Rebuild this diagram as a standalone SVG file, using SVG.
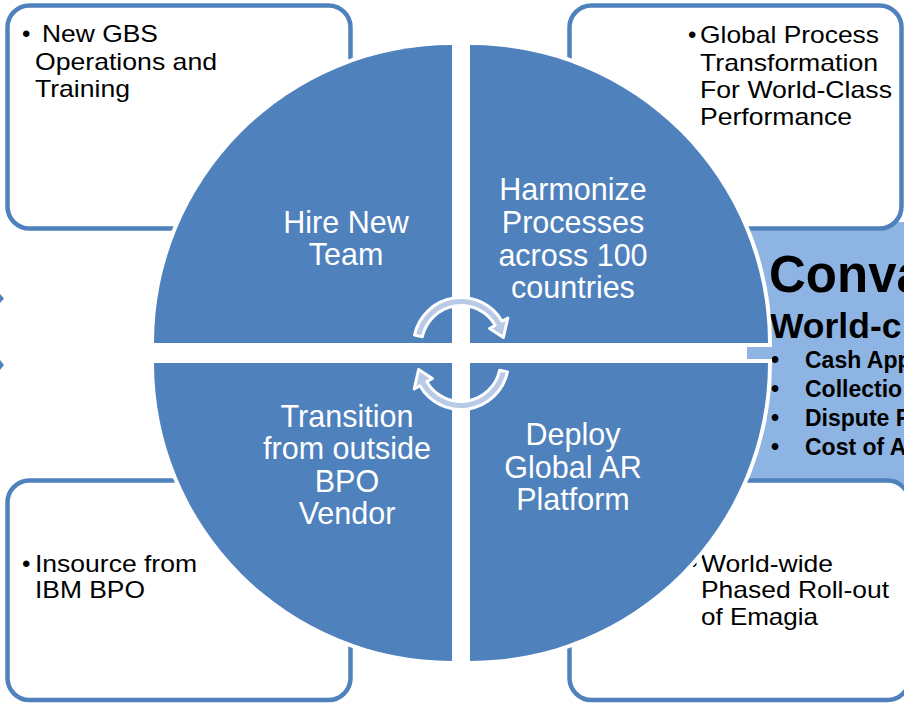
<svg xmlns="http://www.w3.org/2000/svg" width="904" height="703" viewBox="0 0 904 703">
  <style>
    .box { fill: #ffffff; stroke: #4f81bd; stroke-width: 4.5; }
    .note { font-family: "Liberation Sans", Arial, sans-serif; font-size: 24px; fill: #000000; }
    .quad { fill: #4f81bd; }
    .halo { fill: #ffffff; stroke: #ffffff; stroke-width: 8; stroke-linejoin: miter; }
    .label { font-family: "Liberation Sans", Arial, sans-serif; font-size: 30.5px; fill: #ffffff; text-anchor: middle; }
    .hl { font-family: "Liberation Sans", Arial, sans-serif; font-weight: bold; fill: #000000; }
    .cyc { fill: #b9cae6; stroke: #ffffff; stroke-width: 3; stroke-linejoin: round; }
  </style>
  <defs>
    <path id="cycArrow" d="M414.5,335.1 A47.5,47.5 0 0 1 502.1,321.3 L507.8,318 L503.4,337.5 L489.6,328.5 L495.2,325.3 A39.5,39.5 0 0 0 422.4,336.8 Z"/>
  </defs>
  <rect width="904" height="703" fill="#ffffff"/>

  <!-- outer notes -->
  <g id="note-gbs">
    <rect class="box" x="7.5" y="5.5" width="343" height="223" rx="22"/>
    <text class="note" x="22" y="42">•</text>
    <text class="note" x="42" y="42" textLength="116" lengthAdjust="spacingAndGlyphs">New GBS</text>
    <text class="note" x="35" y="70" textLength="182" lengthAdjust="spacingAndGlyphs">Operations and</text>
    <text class="note" x="35" y="97" textLength="95" lengthAdjust="spacingAndGlyphs">Training</text>
  </g>
  <g id="note-insource">
    <rect class="box" x="7.5" y="480.5" width="343" height="219.5" rx="22"/>
    <text class="note" x="22" y="572">•</text>
    <text class="note" x="35" y="572" textLength="162" lengthAdjust="spacingAndGlyphs">Insource from</text>
    <text class="note" x="35" y="598" textLength="110" lengthAdjust="spacingAndGlyphs">IBM BPO</text>
  </g>
  <g id="goal">
    <rect x="747" y="222" width="170" height="262" fill="#8db4e2"/>
    <text class="hl" x="769" y="292" font-size="51">Conva</text>
    <text class="hl" x="770" y="338" font-size="35.5">World-c</text>
    <text class="hl" font-size="23">
      <tspan x="771" y="368">•</tspan>
      <tspan x="771" y="397">•</tspan>
      <tspan x="771" y="426">•</tspan>
      <tspan x="771" y="455">•</tspan>
    </text>
    <text class="hl" x="805" y="368" font-size="23">Cash App</text>
    <text class="hl" x="805" y="397" font-size="23">Collectio</text>
    <text class="hl" x="805" y="426" font-size="23">Dispute R</text>
    <text class="hl" x="805" y="455" font-size="23">Cost of A</text>
  </g>
  <g id="note-transform">
    <rect class="box" x="569.5" y="5.5" width="332" height="223" rx="22"/>
    <text class="note" x="688" y="43">•</text>
    <text class="note" x="700" y="43" textLength="179" lengthAdjust="spacingAndGlyphs">Global Process</text>
    <text class="note" x="700" y="71" textLength="178" lengthAdjust="spacingAndGlyphs">Transformation</text>
    <text class="note" x="700" y="98" textLength="192" lengthAdjust="spacingAndGlyphs">For World-Class</text>
    <text class="note" x="700" y="125" textLength="152" lengthAdjust="spacingAndGlyphs">Performance</text>
  </g>
  <g id="note-rollout">
    <rect class="box" x="569.5" y="480.5" width="340" height="219.5" rx="22"/>
    <text class="note" x="689" y="572">•</text>
    <text class="note" x="701" y="572" textLength="132" lengthAdjust="spacingAndGlyphs">World-wide</text>
    <text class="note" x="701" y="598" textLength="188" lengthAdjust="spacingAndGlyphs">Phased Roll-out</text>
    <text class="note" x="701" y="625" textLength="117" lengthAdjust="spacingAndGlyphs">of Emagia</text>
  </g>

  <!-- arrow tips at the left edge -->
  <g id="left-tips" fill="#4f81bd">
    <polygon points="0,294 4,298.5 0,303"/>
    <polygon points="0,360 4,365 0,370"/>
  </g>

  <!-- four quadrants of the cycle -->
  <g id="quad-hire">
    <path class="halo" d="M452,343 L154,343 A298,298 0 0 1 452,45 Z"/>
    <path class="quad" d="M452,343 L154,343 A298,298 0 0 1 452,45 Z"/>
    <text class="label"><tspan x="346" y="233">Hire New</tspan><tspan x="346" y="265">Team</tspan></text>
  </g>
  <g id="quad-harmonize">
    <path class="halo" d="M470,343 L470,45 A298,298 0 0 1 768,343 Z"/>
    <path class="quad" d="M470,343 L470,45 A298,298 0 0 1 768,343 Z"/>
    <text class="label"><tspan x="573" y="200">Harmonize</tspan><tspan x="573" y="233">Processes</tspan><tspan x="573" y="266">across 100</tspan><tspan x="573" y="298">countries</tspan></text>
  </g>
  <g id="quad-deploy">
    <path class="halo" d="M470,363 L768,363 A298,298 0 0 1 470,661 Z"/>
    <path class="quad" d="M470,363 L768,363 A298,298 0 0 1 470,661 Z"/>
    <text class="label"><tspan x="573" y="445">Deploy</tspan><tspan x="573" y="478">Global AR</tspan><tspan x="573" y="510">Platform</tspan></text>
  </g>
  <g id="quad-transition">
    <path class="halo" d="M452,363 L452,661 A298,298 0 0 1 154,363 Z"/>
    <path class="quad" d="M452,363 L452,661 A298,298 0 0 1 154,363 Z"/>
    <text class="label"><tspan x="347" y="427">Transition</tspan><tspan x="347" y="459">from outside</tspan><tspan x="347" y="492">BPO</tspan><tspan x="347" y="524">Vendor</tspan></text>
  </g>

  <!-- circular arrows in the centre -->
  <g id="connectors">
    <use href="#cycArrow" class="cyc"/>
    <use href="#cycArrow" class="cyc" transform="rotate(180 461 353.5)"/>
  </g>
</svg>
